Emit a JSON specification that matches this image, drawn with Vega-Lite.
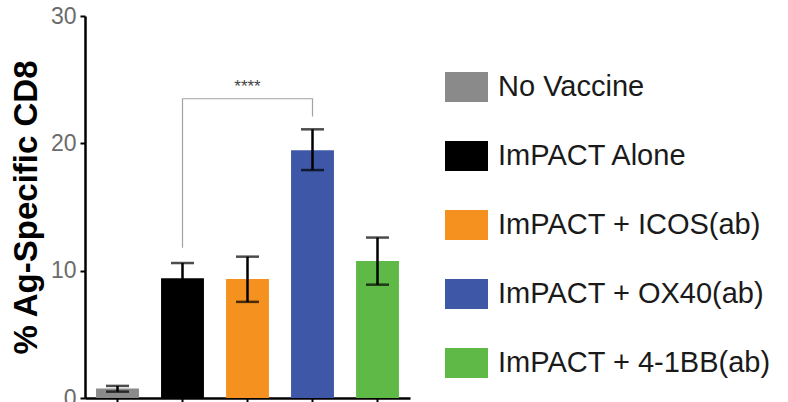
{
  "$schema": "https://vega.github.io/schema/vega-lite/v6.json",
  "width": 325,
  "height": 382,
  "autosize": "none",
  "padding": {"left": 85, "top": 16, "right": 378, "bottom": 4},
  "background": "white",
  "config": {"view": {"stroke": null}, "font": "Liberation Sans"},
  "datasets": {
    "bars": [
      {"group": "No Vaccine", "mean": 0.75, "lower": 0.5, "upper": 0.95},
      {"group": "ImPACT Alone", "mean": 9.4, "lower": 8.2, "upper": 10.6},
      {"group": "ImPACT + ICOS(ab)", "mean": 9.35, "lower": 7.55, "upper": 11.1},
      {"group": "ImPACT + OX40(ab)", "mean": 19.45, "lower": 17.9, "upper": 21.1},
      {"group": "ImPACT + 4-1BB(ab)", "mean": 10.75, "lower": 8.9, "upper": 12.6}
    ],
    "bracket": [
      {"group": "ImPACT Alone", "y": 11.8, "order": 1},
      {"group": "ImPACT Alone", "y": 23.5, "order": 2},
      {"group": "ImPACT + OX40(ab)", "y": 23.5, "order": 3},
      {"group": "ImPACT + OX40(ab)", "y": 22.1, "order": 4}
    ],
    "sig": [{"group": "ImPACT + ICOS(ab)", "y": 24.4, "label": "****"}]
  },
  "layer": [
    {
      "data": {"name": "bars"},
      "mark": {"type": "bar"},
      "encoding": {
        "x": {
          "field": "group", "type": "nominal",
          "scale": {"domain": ["No Vaccine", "ImPACT Alone", "ImPACT + ICOS(ab)", "ImPACT + OX40(ab)", "ImPACT + 4-1BB(ab)"], "paddingInner": 0.34, "paddingOuter": 0.17},
          "axis": {"title": null, "labels": false, "ticks": true, "tickSize": 6, "tickWidth": 2, "tickColor": "#000", "domainColor": "#000", "domainWidth": 2.5, "grid": false}
        },
        "y": {
          "field": "mean", "type": "quantitative",
          "scale": {"domain": [0, 30], "nice": false},
          "axis": {"title": "% Ag-Specific CD8", "titleFontSize": 33, "titleFontWeight": "bold", "titleColor": "#000", "titlePadding": 7, "values": [0, 10, 20, 30], "labelFontSize": 23, "labelColor": "#6b6b6b", "labelPadding": 4, "tickSize": 5, "tickWidth": 2, "tickColor": "#000", "domainColor": "#000", "domainWidth": 2.5, "grid": false}
        },
        "color": {
          "field": "group", "type": "nominal",
          "scale": {"domain": ["No Vaccine", "ImPACT Alone", "ImPACT + ICOS(ab)", "ImPACT + OX40(ab)", "ImPACT + 4-1BB(ab)"], "range": ["#8a8a8a", "#000000", "#f5921f", "#3e57a6", "#5fb947"]},
          "legend": {"title": null, "orient": "none", "legendX": 360, "legendY": 49.5, "symbolType": "M-1,-0.7H1V0.7H-1Z", "symbolSize": 1849, "symbolStrokeWidth": 0, "symbolOpacity": 1, "labelFontSize": 29, "labelColor": "#1a1a1a", "labelOffset": 10, "rowPadding": 32, "labelLimit": 400, "padding": 0}
        }
      }
    },
    {
      "data": {"name": "bars"},
      "mark": {"type": "rule", "color": "#000", "strokeWidth": 2.5},
      "encoding": {
        "x": {"field": "group", "type": "nominal"},
        "y": {"field": "lower", "type": "quantitative"},
        "y2": {"field": "upper"}
      }
    },
    {
      "data": {"name": "bars"},
      "mark": {"type": "tick", "color": "#000", "size": 23, "thickness": 2.5},
      "encoding": {
        "x": {"field": "group", "type": "nominal"},
        "y": {"field": "upper", "type": "quantitative"}
      }
    },
    {
      "data": {"name": "bars"},
      "mark": {"type": "tick", "color": "#000", "size": 23, "thickness": 2.5},
      "encoding": {
        "x": {"field": "group", "type": "nominal"},
        "y": {"field": "lower", "type": "quantitative"}
      }
    },
    {
      "data": {"name": "bracket"},
      "mark": {"type": "line", "color": "#a3a3a3", "strokeWidth": 1.2},
      "encoding": {
        "x": {"field": "group", "type": "nominal"},
        "y": {"field": "y", "type": "quantitative"},
        "order": {"field": "order", "type": "quantitative"}
      }
    },
    {
      "data": {"name": "sig"},
      "mark": {"type": "text", "fontSize": 17, "color": "#444", "baseline": "middle"},
      "encoding": {
        "x": {"field": "group", "type": "nominal"},
        "y": {"field": "y", "type": "quantitative"},
        "text": {"field": "label"}
      }
    }
  ]
}
